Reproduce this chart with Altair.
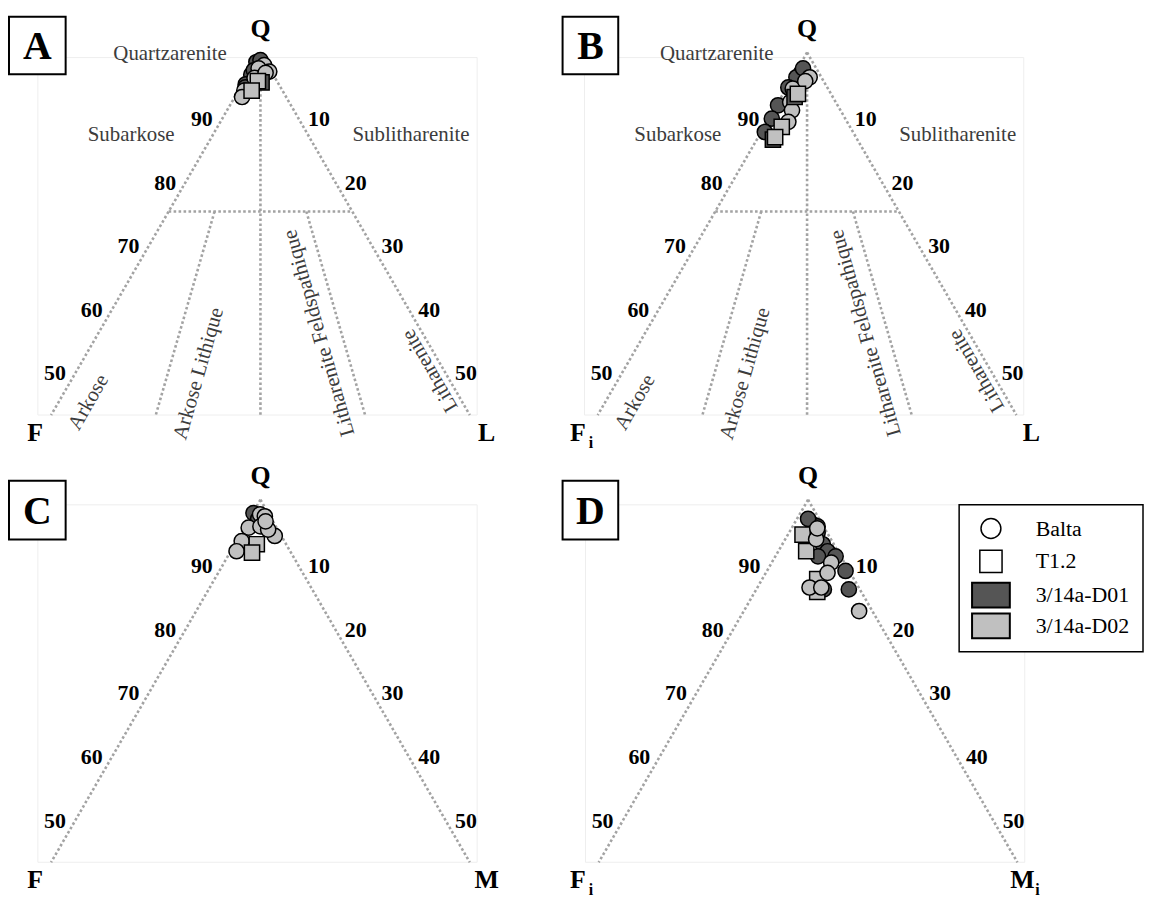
import altair as alt
import pandas as pd

# ---------------- data ----------------
WELLS = ["3/14a-D01", "3/14a-D02"]
WELL_FILL = ["#555555", "#c0c0c0"]
LOCS = ["Balta", "T1.2"]
TICKS = [90, 80, 70, 60, 50]
LEGEND_LABELS = ["Balta", "T1.2", "3/14a-D01", "3/14a-D02"]

# Panel A : Q - F - L
A_Q = [98.5, 98.8, 96.5, 95.0, 96.5, 94.5, 97.2, 98.0, 97.0, 97.5, 96.0, 94.0, 96.8, 93.0, 95.3, 95.5, 94.0]
A_F = [1.3, 0.6, 3.0, 4.5, 1.5, 4.8, 2.3, 0.5, 0.3, 1.5, 2.8, 5.2, 0.9, 6.0, 2.2, 2.6, 4.2]
A_T = [0.2, 0.6, 0.5, 0.5, 2.0, 0.7, 0.5, 1.5, 2.7, 1.0, 1.2, 0.8, 2.3, 1.0, 2.5, 1.9, 1.8]
A_LOC = ["Balta", "Balta", "Balta", "Balta", "Balta", "Balta", "Balta",
         "Balta", "Balta", "Balta", "Balta", "Balta", "Balta", "Balta",
         "T1.2", "T1.2", "T1.2"]
A_WELL = ["3/14a-D01", "3/14a-D01", "3/14a-D01", "3/14a-D01", "3/14a-D01", "3/14a-D01", "3/14a-D01",
          "3/14a-D02", "3/14a-D02", "3/14a-D02", "3/14a-D02", "3/14a-D02", "3/14a-D02", "3/14a-D02",
          "3/14a-D01", "3/14a-D02", "3/14a-D02"]

# Panel B : Q - Fi - L
B_Q = [96.9, 96.1, 94.5, 91.7, 89.6, 87.5, 97.5, 96.1, 94.3, 92.2, 90.9, 89.1, 95.5, 86.3, 93.0, 93.5, 88.3, 86.7]
B_F = [2.3, 3.4, 5.3, 8.1, 10.0, 12.0, 1.8, 1.6, 4.8, 6.2, 6.6, 8.0, 2.5, 11.5, 5.2, 4.5, 9.3, 11.0]
B_T = [0.8, 0.5, 0.2, 0.2, 0.4, 0.5, 0.7, 2.3, 0.9, 1.6, 2.5, 2.9, 2.0, 2.2, 1.8, 2.0, 2.4, 2.3]
B_LOC = ["Balta", "Balta", "Balta", "Balta", "Balta", "Balta", "Balta",
         "Balta", "Balta", "Balta", "Balta", "Balta", "Balta",
         "T1.2", "T1.2", "T1.2", "T1.2", "T1.2"]
B_WELL = ["3/14a-D01", "3/14a-D01", "3/14a-D01", "3/14a-D01", "3/14a-D01", "3/14a-D01", "3/14a-D01",
          "3/14a-D02", "3/14a-D02", "3/14a-D02", "3/14a-D02", "3/14a-D02", "3/14a-D02",
          "3/14a-D01", "3/14a-D01", "3/14a-D02", "3/14a-D02", "3/14a-D02"]

# Panel C : Q - F - M
C_Q = [97.9, 97.0, 97.7, 97.4, 95.6, 95.8, 94.3, 93.5, 91.9, 95.3, 96.6, 93.0, 91.7]
C_F = [2.0, 1.8, 1.2, 0.7, 3.8, 2.1, 0.9, 5.8, 7.3, 1.3, 1.0, 4.0, 5.3]
C_T = [0.1, 1.2, 1.1, 1.9, 0.6, 2.1, 4.8, 0.7, 0.8, 3.4, 2.4, 3.0, 3.0]
C_LOC = ["Balta", "Balta", "Balta", "Balta", "Balta", "Balta", "Balta", "Balta", "Balta", "Balta", "Balta",
         "T1.2", "T1.2"]
C_WELL = ["3/14a-D01", "3/14a-D01",
          "3/14a-D02", "3/14a-D02", "3/14a-D02", "3/14a-D02", "3/14a-D02", "3/14a-D02", "3/14a-D02",
          "3/14a-D02", "3/14a-D02", "3/14a-D02", "3/14a-D02"]

# Panel D : Q - Fi - Mi
D_Q = [96.1, 94.8, 93.0, 91.9, 91.1, 91.1, 88.8, 85.9, 85.9, 95.8, 97.0,
       94.5, 91.9, 87.5, 85.5,
       90.1, 88.5, 86.2, 86.2, 82.5, 93.8, 95.5]
D_F = [1.3, 1.3, 1.5, 1.4, 0.7, 3.1, 0.5, 1.5, 4.9, 0.8, 1.5,
       3.5, 4.3, 5.0, 6.0,
       1.8, 3.1, 6.7, 5.1, 1.8, 2.0, 1.0]
D_T = [2.6, 3.9, 5.5, 6.7, 8.2, 5.8, 10.7, 12.6, 9.2, 3.4, 1.5,
       2.0, 3.8, 7.5, 8.5,
       8.1, 8.4, 7.1, 8.7, 15.7, 4.2, 3.5]
D_LOC = ["Balta", "Balta", "Balta", "Balta", "Balta", "Balta", "Balta", "Balta", "Balta", "Balta", "Balta",
         "T1.2", "T1.2", "T1.2", "T1.2",
         "Balta", "Balta", "Balta", "Balta", "Balta", "Balta", "Balta"]
D_WELL = ["3/14a-D01", "3/14a-D01", "3/14a-D01", "3/14a-D01", "3/14a-D01", "3/14a-D01", "3/14a-D01",
          "3/14a-D01", "3/14a-D01", "3/14a-D01", "3/14a-D01",
          "3/14a-D02", "3/14a-D02", "3/14a-D02", "3/14a-D02",
          "3/14a-D02", "3/14a-D02", "3/14a-D02", "3/14a-D02", "3/14a-D02", "3/14a-D02", "3/14a-D02"]

# ternary boundary segments (Q, F, T) -> (Q, F, T)
SIDE_SEGS = [((100, 0, 0), (43, 57, 0)), ((100, 0, 0), (43, 0, 57))]
FOLK_SEGS = [((75, 25, 0), (75, 0, 25)),
             ((95, 2.5, 2.5), (43, 28.5, 28.5)),
             ((75, 18.75, 6.25), (43, 42.75, 14.25)),
             ((75, 6.25, 18.75), (43, 14.25, 42.75))]
FIELD_NAMES = ["Quartzarenite", "Subarkose", "Sublitharenite", "Arkose",
               "Arkose Lithique", "Litharenite Feldspathique", "Litharenite"]

# ---------------- layout ----------------
S = 7.39    # px per unit of (T-F)/2
VS = 6.4    # px per % of Q
FONT = "Liberation Serif"
GRAY = "#a3a3a3"

# label placement (x in (T-F)/2 units, y in Q %), angle
FIELD_POS = [(-12.3, 99.7, 0), (-17.6, 87.0, 0), (20.5, 87.0, 0), (-23.4, 45.0, 300),
             (-8.4, 49.5, 286), (8.0, 55.9, 254), (23.1, 50.0, 240)]


def tern(Q, F, T):
    return (T - F) / 2.0, Q


def panel(letter, Q, F, T, LOC, WELL, left, right, sub, folk, w, h, cx, qt, box,
          ldx, rdx, legend=False):
    xs = alt.Scale(domain=[-cx / S, (w - cx) / S], nice=False, zero=False)
    ys = alt.Scale(domain=[100 - (h - qt) / VS, 100 + qt / VS], nice=False, zero=False)

    def X(f="x"):
        return alt.X(f + ":Q", scale=xs, axis=None)

    def Y(f="y"):
        return alt.Y(f + ":Q", scale=ys, axis=None)

    layers = []
    # faint frame
    fr = pd.DataFrame({"x": [-30.3], "x2": [29.5], "y": [43.0], "y2": [99.2]})
    layers.append(alt.Chart(fr).mark_rect(fillOpacity=0, stroke="#eeeeee", strokeWidth=1).encode(
        x=X(), x2="x2:Q", y=Y(), y2="y2:Q"))

    segs = SIDE_SEGS + (FOLK_SEGS if folk else [])
    rows = []
    for a, b in segs:
        x1, y1 = tern(*a)
        x2, y2 = tern(*b)
        rows.append({"x": x1, "y": y1, "x2": x2, "y2": y2})
    layers.append(alt.Chart(pd.DataFrame(rows)).mark_rule(
        color=GRAY, strokeWidth=2.6, strokeDash=[2.6, 2.4]).encode(
        x=X(), y=Y(), x2="x2:Q", y2="y2:Q"))

    if folk:
        for name, (fx, fy, ang) in zip(FIELD_NAMES, FIELD_POS):
            d = pd.DataFrame({"x": [fx], "y": [fy], "t": [name]})
            mk = dict(font=FONT, fontSize=21, color="#3c3c3c", align="center", baseline="middle")
            if ang:
                mk["angle"] = ang
            layers.append(alt.Chart(d).mark_text(**mk).encode(x=X(), y=Y(), text="t:N"))

    # tick labels
    tl = pd.DataFrame({"x": [-(100 - v) / 2 for v in TICKS], "y": TICKS,
                       "t": [str(v) for v in TICKS]})
    tr = pd.DataFrame({"x": [(100 - v) / 2 for v in TICKS], "y": TICKS,
                       "t": [str(100 - v) for v in TICKS]})
    tk = dict(font=FONT, fontSize=22, fontWeight="bold", align="center", baseline="middle", dy=3)
    layers.append(alt.Chart(tl).mark_text(dx=-22, **tk).encode(x=X(), y=Y(), text="t:N"))
    layers.append(alt.Chart(tr).mark_text(dx=22, **tk).encode(x=X(), y=Y(), text="t:N"))

    # corner labels
    ck = dict(font=FONT, fontSize=26, fontWeight="bold", align="center", baseline="middle")
    layers.append(alt.Chart(pd.DataFrame({"x": [0.0], "y": [100.0], "t": ["Q"]})).mark_text(
        dy=-24, **ck).encode(x=X(), y=Y(), text="t:N"))
    layers.append(alt.Chart(pd.DataFrame({"x": [-28.5], "y": [43.0], "t": [left]})).mark_text(
        dx=ldx, dy=18, **ck).encode(x=X(), y=Y(), text="t:N"))
    layers.append(alt.Chart(pd.DataFrame({"x": [28.5], "y": [43.0], "t": [right]})).mark_text(
        dx=rdx, dy=18, **ck).encode(x=X(), y=Y(), text="t:N"))
    if sub:
        sk = dict(font=FONT, fontSize=16, fontWeight="bold", align="left", baseline="middle")
        layers.append(alt.Chart(pd.DataFrame({"x": [-28.5], "y": [43.0], "t": ["i"]})).mark_text(
            dx=ldx + 11, dy=28, **sk).encode(x=X(), y=Y(), text="t:N"))
        if right != "L":
            layers.append(alt.Chart(pd.DataFrame({"x": [28.5], "y": [43.0], "t": ["i"]})).mark_text(
                dx=rdx + 13, dy=28, **sk).encode(x=X(), y=Y(), text="t:N"))

    # data points
    xy = [tern(q, f, t) for q, f, t in zip(Q, F, T)]
    pdf = pd.DataFrame({"x": [p[0] for p in xy], "y": [p[1] for p in xy], "loc": LOC, "well": WELL})
    layers.append(alt.Chart(pdf).mark_point(filled=True, stroke="black", strokeWidth=1.5,
                                            opacity=1, size=235).encode(
        x=X(), y=Y(),
        shape=alt.Shape("loc:N", scale=alt.Scale(domain=LOCS, range=["circle", "square"]), legend=None),
        fill=alt.Fill("well:N", scale=alt.Scale(domain=WELLS, range=WELL_FILL), legend=None)))

    # panel letter box
    bx0, by0, bx1, by1 = box
    one = pd.DataFrame({"t": [letter]})
    layers.append(alt.Chart(one).mark_rect(fill="white", stroke="black", strokeWidth=2).encode(
        x=alt.value(bx0), x2=alt.value(bx1), y=alt.value(by0), y2=alt.value(by1)))
    layers.append(alt.Chart(one).mark_text(font=FONT, fontSize=40, fontWeight="bold",
                                           align="center", baseline="middle", dy=2).encode(
        x=alt.value((bx0 + bx1) / 2), y=alt.value((by0 + by1) / 2), text="t:N"))

    if legend:
        lb = pd.DataFrame({"t": ["box"]})
        layers.append(alt.Chart(lb).mark_rect(fill="white", stroke="black", strokeWidth=1.5).encode(
            x=alt.value(405), x2=alt.value(590), y=alt.value(51), y2=alt.value(199)))
        ys_leg = [75, 108, 142, 173]
        for i, lab in enumerate(LEGEND_LABELS):
            d = pd.DataFrame({"t": [lab]})
            if i == 0:
                layers.append(alt.Chart(d).mark_point(shape="circle", filled=True, fill="white",
                                                      stroke="black", strokeWidth=1.5, size=400,
                                                      opacity=1).encode(
                    x=alt.value(437), y=alt.value(ys_leg[i])))
            elif i == 1:
                layers.append(alt.Chart(d).mark_point(shape="square", filled=True, fill="white",
                                                      stroke="black", strokeWidth=1.5, size=500,
                                                      opacity=1).encode(
                    x=alt.value(437), y=alt.value(ys_leg[i])))
            else:
                layers.append(alt.Chart(d).mark_rect(fill=WELL_FILL[i - 2], stroke="black",
                                                     strokeWidth=2).encode(
                    x=alt.value(418), x2=alt.value(456),
                    y=alt.value(ys_leg[i] - 12.5), y2=alt.value(ys_leg[i] + 12.5)))
            layers.append(alt.Chart(d).mark_text(font=FONT, fontSize=22, align="left",
                                                 baseline="middle").encode(
                x=alt.value(482), y=alt.value(ys_leg[i]), text="t:N"))

    return alt.layer(*layers).properties(width=w, height=h)


pA = panel("A", A_Q, A_F, A_T, A_LOC, A_WELL, "F", "L", False, True,
           552, 446, 254, 42, (1, 6, 58, 64), -16, 17)
pB = panel("B", B_Q, B_F, B_T, B_LOC, B_WELL, "F", "L", True, True,
           584, 446, 252, 42, (6, 6, 62, 64), -20, 15)
pC = panel("C", C_Q, C_F, C_T, C_LOC, C_WELL, "F", "M", False, False,
           552, 446, 254, 46, (1, 27, 58, 86), -16, 17)
pD = panel("D", D_Q, D_F, D_T, D_LOC, D_WELL, "F", "M", True, False,
           584, 446, 253, 46, (6, 27, 62, 86), -21, 5, legend=True)

chart = alt.concat(pA, pB, pC, pD, columns=2, spacing=0, bounds="flush", padding=0,
                   background="white").configure_view(stroke=None)

chart.save("out.html", embed_options={"renderer": "svg", "actions": False})
